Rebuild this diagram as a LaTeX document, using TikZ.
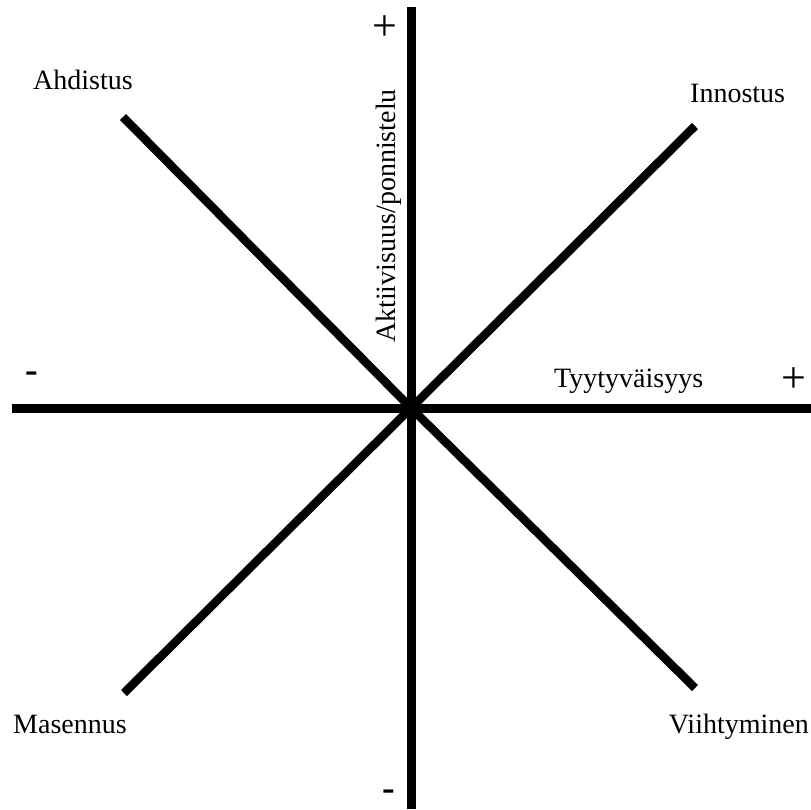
\documentclass[tikz,border=0pt]{standalone}
\usepackage{fontspec}
\setmainfont{Liberation Serif}
\begin{document}
\begin{tikzpicture}[x=1pt,y=-1pt,
  axisline/.style={line width=9pt,line cap=butt},
  diagline/.style={line width=8.5pt,line cap=butt},
  lbl/.style={inner sep=0pt,font=\fontsize{28}{30}\selectfont,anchor=base west},
  sign/.style={inner sep=0pt,font=\fontsize{44}{46}\selectfont},
  minus/.style={inner sep=0pt,font=\fontsize{38}{40}\selectfont\bfseries}]
\useasboundingbox (0,0) rectangle (811,809);
\fill[white] (0,0) rectangle (811,809);
% coordinates
\coordinate (c) at (411,408);
\coordinate (top) at (411,7);
\coordinate (bot) at (411,809);
\coordinate (lft) at (12,408);
\coordinate (rgt) at (811,408);
\coordinate (eA) at (123,117);
\coordinate (eI) at (695,126);
\coordinate (eM) at (124,693);
\coordinate (eV) at (695,688);
% axes
\draw[axisline] (top) -- (bot);
\draw[axisline] (lft) -- (rgt);
% diagonals
\draw[diagline] (eA) -- (c);
\draw[diagline] (c) -- (eV);
\draw[diagline] (eI) -- (c);
\draw[diagline] (c) -- (eM);
% labels
\node[lbl] (ahd) at (33,89) {Ahdistus};
\node[lbl] (inn) at (690,102) {Innostus};
\node[lbl] (tyy) at (554,387) {Tyytyväisyys};
\node[lbl] (mas) at (13,733) {Masennus};
\node[lbl,anchor=base east] (vii) at (809,733) {Viihtyminen};
\node[lbl,rotate=90] (akt) at (395,343) {Aktiivisuus/ponnistelu};
% signs
\node[sign] (ptop) at (385,28) {+};
\node[sign] (prgt) at (794,380) {+};
\node[minus] (mlft) at (32,377) {-};
\node[minus] (mbot) at (389,795) {-};
\end{tikzpicture}
\end{document}
